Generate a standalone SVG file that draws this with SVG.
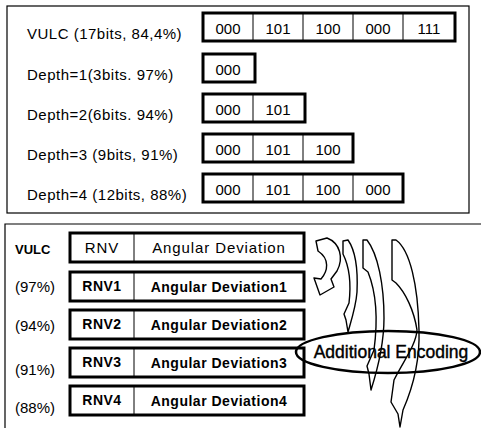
<svg xmlns="http://www.w3.org/2000/svg" width="481" height="428" viewBox="0 0 481 428">
<style>
.panel{fill:none;stroke:#000;stroke-width:1.2}
.box{fill:none;stroke:#000;stroke-width:3}
.div{stroke:#000;stroke-width:1}
.lbl{font-family:"Liberation Sans",Arial,sans-serif;font-size:15px;letter-spacing:0.5px;fill:#000}
.cell{font-family:"Liberation Sans",Arial,sans-serif;font-size:15px;fill:#000;text-anchor:middle}
.lb2{font-family:"Liberation Sans",Arial,sans-serif;font-size:15px;fill:#000}
.t0{font-family:"Liberation Sans",Arial,sans-serif;font-size:15px;letter-spacing:0.9px;fill:#000;text-anchor:middle}
.t1{font-family:"Liberation Sans",Arial,sans-serif;font-size:14px;font-weight:bold;letter-spacing:0.5px;fill:#000;text-anchor:middle}
.arr{fill:none;stroke:#000;stroke-width:1.4;stroke-linejoin:round}
</style>
<rect class="panel" x="7" y="6" width="462" height="207"/>
<path class="panel" d="M5,428 L5,224 L481,224"/>

<g id="vulc-top">
<text class="lbl" x="27" y="39">VULC (17bits, 84,4%)</text>
<rect class="box" x="203" y="13" width="252" height="28"/>
<line class="div" x1="253" y1="13" x2="253" y2="41"/>
<line class="div" x1="303" y1="13" x2="303" y2="41"/>
<line class="div" x1="353" y1="13" x2="353" y2="41"/>
<line class="div" x1="403" y1="13" x2="403" y2="41"/>
<text class="cell" x="228" y="34">000</text>
<text class="cell" x="278" y="34">101</text>
<text class="cell" x="328" y="34">100</text>
<text class="cell" x="378" y="34">000</text>
<text class="cell" x="429" y="34">111</text>
</g>
<g id="depth1">
<text class="lbl" x="27" y="80">Depth=1(3bits. 97%)</text>
<rect class="box" x="203" y="54" width="52" height="28"/>
<text class="cell" x="228" y="75">000</text>
</g>
<g id="depth2">
<text class="lbl" x="27" y="120">Depth=2(6bits. 94%)</text>
<rect class="box" x="203" y="94" width="102" height="28"/>
<line class="div" x1="253" y1="94" x2="253" y2="122"/>
<text class="cell" x="228" y="115">000</text>
<text class="cell" x="278" y="115">101</text>
</g>
<g id="depth3">
<text class="lbl" x="27" y="160">Depth=3 (9bits, 91%)</text>
<rect class="box" x="203" y="134" width="150" height="28"/>
<line class="div" x1="253" y1="134" x2="253" y2="162"/>
<line class="div" x1="303" y1="134" x2="303" y2="162"/>
<text class="cell" x="228" y="155">000</text>
<text class="cell" x="278" y="155">101</text>
<text class="cell" x="328" y="155">100</text>
</g>
<g id="depth4">
<text class="lbl" x="27" y="200">Depth=4 (12bits, 88%)</text>
<rect class="box" x="203" y="174" width="200" height="28"/>
<line class="div" x1="253" y1="174" x2="253" y2="202"/>
<line class="div" x1="303" y1="174" x2="303" y2="202"/>
<line class="div" x1="353" y1="174" x2="353" y2="202"/>
<text class="cell" x="228" y="195">000</text>
<text class="cell" x="278" y="195">101</text>
<text class="cell" x="328" y="195">100</text>
<text class="cell" x="378" y="195">000</text>
</g>

<g id="row-vulc">
<text class="lb2" x="15" y="254" style="font-weight:bold;font-size:13px">VULC</text>
<rect class="box" x="70" y="233" width="234" height="29"/>
<line class="div" x1="134" y1="233" x2="134" y2="262"/>
<text class="t0" x="102" y="253">RNV</text>
<text class="t0" x="219" y="253">Angular Deviation</text>
</g>
<g id="row-97">
<text class="lb2" x="15" y="292">(97%)</text>
<rect class="box" x="70" y="272" width="234" height="29"/>
<line class="div" x1="134" y1="272" x2="134" y2="301"/>
<text class="t1" x="102" y="291">RNV1</text>
<text class="t1" x="219" y="292">Angular Deviation1</text>
</g>
<g id="row-94">
<text class="lb2" x="15" y="331">(94%)</text>
<rect class="box" x="70" y="310" width="234" height="29"/>
<line class="div" x1="134" y1="310" x2="134" y2="339"/>
<text class="t1" x="102" y="329">RNV2</text>
<text class="t1" x="219" y="330">Angular Deviation2</text>
</g>
<g id="row-91">
<text class="lb2" x="15" y="375">(91%)</text>
<rect class="box" x="70" y="348" width="234" height="29"/>
<line class="div" x1="134" y1="348" x2="134" y2="377"/>
<text class="t1" x="102" y="367">RNV3</text>
<text class="t1" x="219" y="368">Angular Deviation3</text>
</g>
<g id="row-88">
<text class="lb2" x="15" y="413">(88%)</text>
<rect class="box" x="70" y="386" width="234" height="29"/>
<line class="div" x1="134" y1="386" x2="134" y2="415"/>
<text class="t1" x="102" y="405">RNV4</text>
<text class="t1" x="219" y="406">Angular Deviation4</text>
</g>

<g id="additional-encoding">
<ellipse cx="388" cy="352" rx="92" ry="21" fill="none" stroke="#000" stroke-width="2.5"/>
<text x="391" y="358" style="font-family:'Liberation Sans',Arial,sans-serif;font-size:17.5px;text-anchor:middle;stroke:#000;stroke-width:0.4">Additional Encoding</text>
</g>

<g id="connectors">
<path class="arr" d="M316,241 L327,238 C340,243 344,258 337,271 L331,279 L334,287 L320,295 L314,278 L321,279 C328,271 330,259 318,251 Z"/>
<path class="arr" d="M343,241 L348,240 C355,250 358,270 357,292 C356,306 352,318 348,332 L346,320 L344,314 L349,303 C351,286 350,268 343,254 Z"/>
<path class="arr" d="M363,240 L367,240 C378,254 384,285 384,318 C384,345 378,368 371,390 L369,374 L367,366 L374,350 C378,320 376,292 368,272 L363,268 Z"/>
<path class="arr" d="M392,240 L396,240 C410,250 418,285 419,330 C420,360 414,385 403,410 L400,427 L398,414 L391,402 L394,380 C404,360 416,345 417,330 C414,310 405,292 396,283 L392,280 Z"/>
</g>
</svg>
